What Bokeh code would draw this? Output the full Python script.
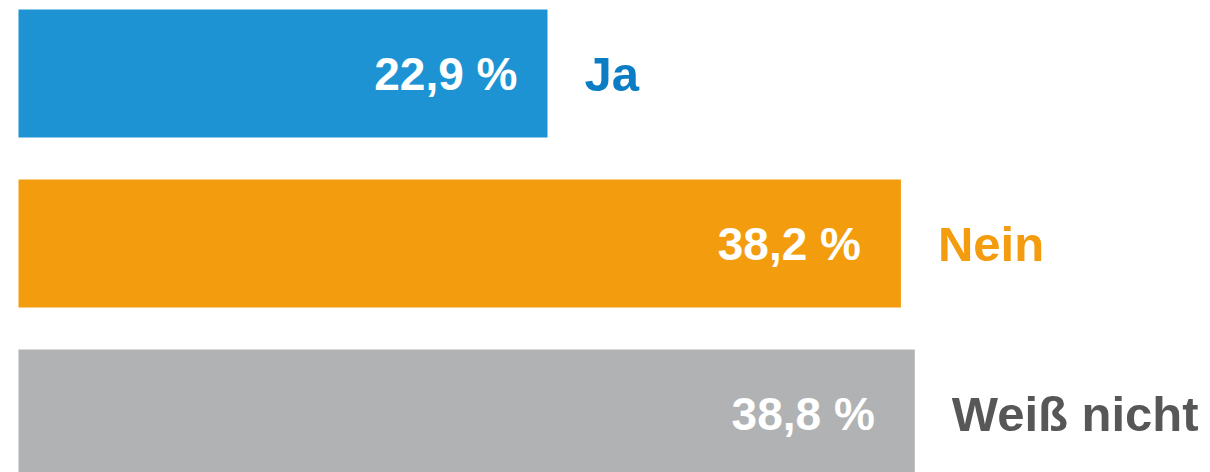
from bokeh.plotting import figure
from bokeh.models import Range1d, ColumnDataSource
from bokeh.core.properties import value
from bokeh.embed import file_html
from bokeh.resources import INLINE

categories = ["Ja", "Nein", "Weiß nicht"]
percents = [22.9, 38.2, 38.8]
value_labels = ["22,9 %", "38,2 %", "38,8 %"]

bar_colors = ["#1E93D3", "#F39C0E", "#B1B2B4"]
label_colors = ["#0A7DC5", "#F39C0E", "#575757"]
value_offsets = [-30, -40, -40]

W, H = 1210, 472
px_per_pct = 23.1
left_px = 18
row_px = 170
first_center_px = 73

x_start = -left_px / px_per_pct
x_end = (W - left_px) / px_per_pct
y_top = -first_center_px / row_px
y_bottom = (H - first_center_px) / row_px

p = figure(width=W, height=H, output_backend="svg", toolbar_location=None,
           x_range=Range1d(x_start, x_end), y_range=Range1d(y_bottom, y_top),
           min_border=0, outline_line_color=None)
p.axis.visible = False
p.grid.visible = False
p.background_fill_color = "white"
p.border_fill_color = "white"

ys = list(range(len(categories)))
src = ColumnDataSource(dict(y=ys, pct=percents, cat=categories, vl=value_labels,
                            bc=bar_colors, lc=label_colors, off=value_offsets))

p.hbar(y="y", left=0, right="pct", height=128 / row_px, fill_color="bc",
       line_color=None, source=src)

p.text(x="pct", y="y", text="vl", x_offset="off", text_align="right",
       text_baseline="middle", text_color="white", text_font_size="46px",
       text_font_style="bold", text_font=value("Liberation Sans"), source=src)

p.text(x="pct", y="y", text="cat", x_offset=37, text_align="left",
       text_baseline="middle", text_color="lc", text_font_size="49px",
       text_font_style="bold", text_font=value("Liberation Sans"), source=src)

open("out.html", "w").write(file_html(p, INLINE))
